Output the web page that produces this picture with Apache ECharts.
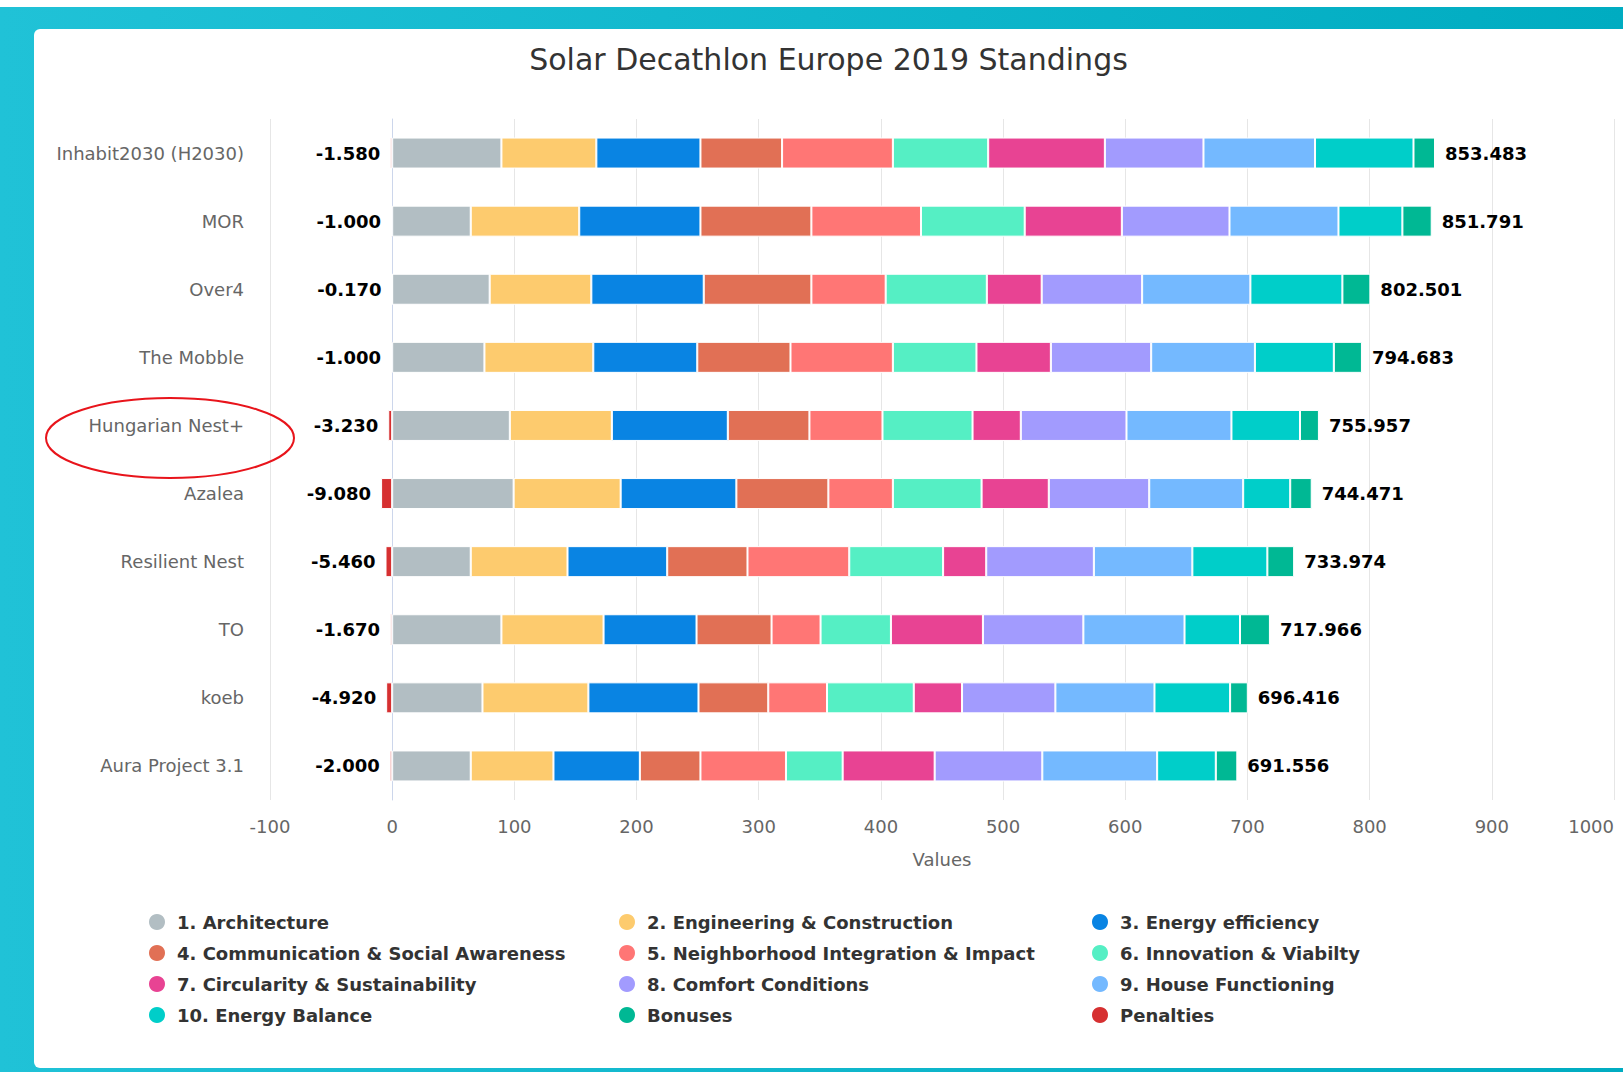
<!DOCTYPE html>
<html>
<head>
<meta charset="utf-8">
<title>Solar Decathlon Europe 2019 Standings</title>
<script src="https://cdn.jsdelivr.net/npm/echarts@6/dist/echarts.min.js"></script>
<style>
  body { margin: 0; background: #fff; overflow: hidden; }
  #frame { position: absolute; left: 0; top: 7px; width: 1623px; height: 1065px;
           background: linear-gradient(90deg, #20c2d7, #00acc1); }
  #card { position: absolute; left: 34px; top: 29px; width: 1589px; height: 1039px;
          background: #fff; border-radius: 6px 0 0 6px; }
  #main { position: absolute; left: 34px; top: 0; width: 1589px; height: 1072px; }
</style>
</head>
<body>
<div id="frame"></div>
<div id="card"></div>
<div id="main"></div>
<script>
  var teams = ['Inhabit2030 (H2030)', 'MOR', 'Over4', 'The Mobble', 'Hungarian Nest+',
    'Azalea', 'Resilient Nest', 'TO', 'koeb', 'Aura Project 3.1'];

  var architecture = [89.4, 64.3, 79.8, 75.5, 96.3, 99.4, 64.3, 89.4, 73.9, 64.3];
  var engineering = [77.7, 88.8, 83.2, 89.1, 83.5, 87.6, 79.2, 83.6, 86.7, 67.7];
  var energyEfficiency = [85.2, 99.2, 92.0, 85.1, 94.9, 94.7, 81.6, 76.1, 90.1, 70.7];
  var communication = [66.8, 90.8, 88.1, 76.3, 66.8, 75.3, 65.7, 61.4, 57.1, 49.6];
  var neighborhood = [90.7, 89.7, 60.8, 83.8, 59.8, 52.8, 83.3, 40.1, 48.1, 70.0];
  var innovation = [78.0, 84.9, 82.8, 68.4, 73.7, 72.6, 76.8, 57.6, 71.0, 46.4];
  var circularity = [95.5, 79.5, 44.9, 60.9, 39.5, 55.0, 35.3, 75.3, 39.5, 75.3];
  var comfort = [80.7, 88.1, 82.2, 82.1, 86.5, 82.2, 88.1, 82.2, 76.4, 88.1];
  var houseFunctioning = [91.3, 89.2, 88.6, 84.9, 85.9, 76.9, 80.6, 82.8, 81.1, 94.0];
  var energyBalance = [80.6, 52.3, 75.3, 64.6, 56.1, 38.5, 61.4, 45.4, 61.9, 48.0];
  var bonuses = [17.6, 24.0, 22.9, 23.0, 15.5, 17.6, 21.9, 24.5, 14.5, 17.6];
  var penalties = [-1.58, -1.0, -0.17, -1.0, -3.23, -9.08, -5.46, -1.67, -4.92, -2.0];
  var totals = [853.483, 851.791, 802.501, 794.683, 755.957, 744.471, 733.974, 717.966, 696.416, 691.556];

  var seriesList = [
    ['1. Architecture', architecture, '#b2bec3'],
    ['2. Engineering & Construction', engineering, '#fdcb6e'],
    ['3. Energy efficiency', energyEfficiency, '#0984e3'],
    ['4. Communication & Social Awareness', communication, '#e17055'],
    ['5. Neighborhood Integration & Impact', neighborhood, '#ff7675'],
    ['6. Innovation & Viabilty', innovation, '#55efc4'],
    ['7. Circularity & Sustainability', circularity, '#e84393'],
    ['8. Comfort Conditions', comfort, '#a29bfe'],
    ['9. House Functioning', houseFunctioning, '#74b9ff'],
    ['10. Energy Balance', energyBalance, '#00cec9'],
    ['Bonuses', bonuses, '#00b894'],
    ['Penalties', penalties, '#d63031']
  ];

  var font = 'DejaVu Sans';
  var names = seriesList.map(function (s) { return s[0]; });

  var series = seriesList.map(function (s) {
    var item = {
      name: s[0],
      type: 'bar',
      stack: 'total',
      barWidth: 31,
      data: s[1],
      itemStyle: { color: s[2], borderColor: '#fff', borderWidth: 1 },
      emphasis: { disabled: true }
    };
    if (s[0] === 'Bonuses') {
      item.label = {
        show: true, position: 'right', distance: 10,
        color: '#000', fontWeight: 'bold', fontSize: 18, fontFamily: font,
        formatter: function (p) { return totals[p.dataIndex].toFixed(3); }
      };
    }
    if (s[0] === 'Penalties') {
      item.label = {
        show: true, position: 'left', distance: 10,
        color: '#000', fontWeight: 'bold', fontSize: 18, fontFamily: font,
        formatter: function (p) { return penalties[p.dataIndex].toFixed(3); }
      };
    }
    return item;
  });

  // three legend columns, items go row by row
  var legendLeft = [108, 578, 1051];
  var legends = legendLeft.map(function (left, col) {
    return {
      orient: 'vertical',
      left: left,
      top: 907,
      icon: 'circle',
      itemWidth: 18,
      itemHeight: 18,
      itemGap: 11,
      data: names.filter(function (n, i) { return i % 3 === col; }),
      textStyle: { color: '#333', fontWeight: 'bold', fontSize: 18, fontFamily: font, padding: [0, 0, 0, 6] }
    };
  });

  var chart = echarts.init(document.getElementById('main'), null, { renderer: 'svg' });
  chart.setOption({
    backgroundColor: 'transparent',
    animation: false,
    textStyle: { fontFamily: font },
    title: {
      text: 'Solar Decathlon Europe 2019 Standings',
      left: 'center',
      top: 39,
      textStyle: { color: '#333', fontSize: 30, fontWeight: 'normal', fontFamily: font }
    },
    legend: legends,
    grid: { left: 236, right: 9, top: 119, bottom: 272, outerBoundsMode: 'none' },
    xAxis: {
      type: 'value',
      min: -100,
      max: 1000,
      interval: 100,
      name: 'Values',
      nameLocation: 'middle',
      nameGap: 50,
      nameTextStyle: { color: '#666', fontSize: 18, fontFamily: font },
      axisLine: { show: false },
      axisTick: { show: false },
      axisLabel: {
        color: '#666', fontSize: 18, margin: 17, fontFamily: font,
        alignMaxLabel: 'right',
        formatter: function (v) { return String(v); }
      },
      splitLine: { lineStyle: { color: '#e6e6e6', width: 1 } }
    },
    yAxis: {
      type: 'category',
      inverse: true,
      data: teams,
      axisLine: { lineStyle: { color: '#ccd6eb', width: 1 } },
      axisTick: { show: false },
      axisLabel: { color: '#666', fontSize: 18, margin: 26, fontFamily: font },
      splitLine: { show: false }
    },
    graphic: [{
      type: 'ellipse',
      shape: { cx: 136, cy: 438, rx: 124, ry: 40 },
      style: { fill: 'none', stroke: '#e8141b', lineWidth: 2 },
      z: 100
    }],
    series: series
  });
</script>
</body>
</html>
